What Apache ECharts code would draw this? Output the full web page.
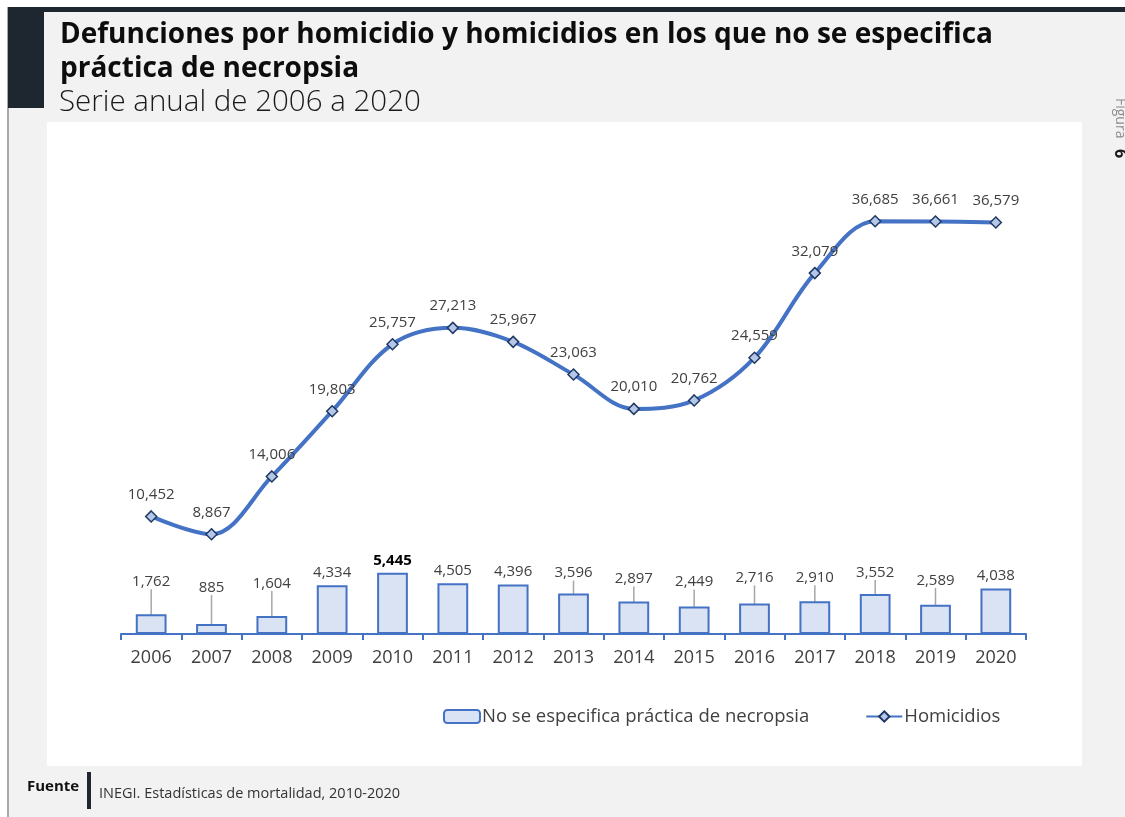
<!DOCTYPE html>
<html>
<head>
<meta charset="utf-8">
<script src="https://cdn.jsdelivr.net/npm/echarts@6/dist/echarts.min.js"></script>
<style>
  html, body { margin: 0; padding: 0; background: #fff; }
  #chart { width: 1125px; height: 817px; }
</style>
</head>
<body>
<div id="chart"></div>
<script>
// Años de la serie
const years = ['2006','2007','2008','2009','2010','2011','2012','2013','2014','2015','2016','2017','2018','2019','2020'];
// Defunciones por homicidio
const homicidios = [10452, 8867, 14006, 19803, 25757, 27213, 25967, 23063, 20010, 20762, 24559, 32079, 36685, 36661, 36579];
// Homicidios en los que no se especifica práctica de necropsia
const sinNecropsia = [1762, 885, 1604, 4334, 5445, 4505, 4396, 3596, 2897, 2449, 2716, 2910, 3552, 2589, 4038];

// Desplazamiento vertical de las etiquetas de barra con línea guía (px)
const barLabelLift = [-20, -24, -20, 0, 0, 0, 0, -8, -10, -12, -13, -11, -9, -12, 0];
const maxBarIndex = sinNecropsia.indexOf(Math.max(...sinNecropsia));

const FONT = 'Open Sans';
const fmt = v => v.toLocaleString('en-US');

const chart = echarts.init(document.getElementById('chart'), null, { renderer: 'canvas' });

const option = {
  backgroundColor: '#ffffff',
  animation: false,
  textStyle: { fontFamily: FONT },
  graphic: [
    // fondo gris de la ficha
    { type: 'rect', z: -10, shape: { x: 8, y: 7, width: 1117, height: 810 }, style: { fill: '#F2F2F2' } },
    // borde izquierdo
    { type: 'rect', z: -9, shape: { x: 7, y: 7, width: 2, height: 810 }, style: { fill: '#A9A9A9' } },
    // barra superior oscura
    { type: 'rect', z: -8, shape: { x: 8, y: 7, width: 1117, height: 5 }, style: { fill: '#1E262F' } },
    // bloque oscuro del encabezado
    { type: 'rect', z: -8, shape: { x: 8, y: 7, width: 36, height: 101 }, style: { fill: '#1E262F' } },
    // área blanca de la gráfica
    { type: 'rect', z: -7, shape: { x: 47, y: 122, width: 1035, height: 644 }, style: { fill: '#FFFFFF' } },
    // título
    { type: 'text', x: 60, y: 35, style: { text: 'Defunciones por homicidio y homicidios en los que no se especifica', font: 'bold 28px "' + FONT + '"', fill: '#0D0D0D', verticalAlign: 'middle' } },
    { type: 'text', x: 60, y: 69, style: { text: 'práctica de necropsia', font: 'bold 28px "' + FONT + '"', fill: '#0D0D0D', verticalAlign: 'middle' } },
    { type: 'text', x: 59, y: 103, style: { text: 'Serie anual de 2006 a 2020', font: '300 29.5px "' + FONT + '"', fill: '#1A1A1A', verticalAlign: 'middle' } },
    // rótulo lateral
    { type: 'text', x: 1127, y: 98, rotation: -Math.PI / 2, style: { text: 'Figura', font: '14px "' + FONT + '"', fill: '#8C8C8C', align: 'left', verticalAlign: 'top' } },
    { type: 'text', x: 1128, y: 149, rotation: -Math.PI / 2, style: { text: '6', font: 'bold 16px "' + FONT + '"', fill: '#1A1A1A', align: 'left', verticalAlign: 'top' } },
    // fuente
    { type: 'text', x: 27, y: 787, style: { text: 'Fuente', font: 'bold 15px "' + FONT + '"', fill: '#111', verticalAlign: 'middle' } },
    { type: 'rect', shape: { x: 87, y: 772, width: 4, height: 37 }, style: { fill: '#1E262F' } },
    { type: 'text', x: 99, y: 794, style: { text: 'INEGI. Estadísticas de mortalidad, 2010-2020', font: '14.5px "' + FONT + '"', fill: '#333', verticalAlign: 'middle' } }
  ],
  legend: {
    left: 443,
    top: 707,
    padding: 0,
    itemWidth: 36,
    itemHeight: 13,
    itemGap: 56,
    textStyle: { fontFamily: FONT, fontSize: 18.5, color: '#404040', padding: [0, 0, 0, -3] },
    data: ['No se especifica práctica de necropsia', 'Homicidios']
  },
  grid: { left: 121, right: 99, top: 139, bottom: 183, containLabel: false },
  xAxis: {
    type: 'category',
    data: years,
    axisLine: { lineStyle: { color: '#4472C4', width: 2 } },
    axisTick: { show: true, length: 6, lineStyle: { color: '#4472C4', width: 2 } },
    axisLabel: { color: '#404040', fontSize: 18, margin: 15, fontFamily: FONT }
  },
  yAxis: {
    type: 'value',
    min: 0,
    max: 44000,
    show: false,
    splitLine: { show: false }
  },
  series: [
    {
      name: 'No se especifica práctica de necropsia',
      type: 'bar',
      data: sinNecropsia.map((v, i) => ({
        value: v,
        label: i === maxBarIndex ? { fontWeight: 'bold', color: '#000' } : undefined,
        labelLine: { show: barLabelLift[i] !== 0 }
      })),
      barWidth: '51%',
      itemStyle: { color: '#DAE3F3', borderColor: '#4472C4', borderWidth: 2 },
      label: {
        show: true,
        position: 'top',
        distance: 5,
        fontSize: 15,
        color: '#404040',
        fontFamily: FONT,
        formatter: p => fmt(p.value)
      },
      labelLayout: p => ({ dy: barLabelLift[p.dataIndex] }),
      labelLine: { show: true, lineStyle: { color: '#A6A6A6', width: 1.5 } },
      z: 2
    },
    {
      name: 'Homicidios',
      type: 'line',
      data: homicidios,
      smooth: 0.35,
      smoothConstraint: false,
      symbol: 'diamond',
      symbolSize: 11,
      lineStyle: { color: '#4472C4', width: 4 },
      itemStyle: { color: '#B4C7E7', borderColor: '#203864', borderWidth: 1.5 },
      label: {
        show: true,
        position: 'top',
        distance: 8,
        fontSize: 15,
        color: '#404040',
        fontFamily: FONT,
        formatter: p => fmt(p.value)
      },
      z: 3
    }
  ]
};

chart.setOption(option);
</script>
</body>
</html>
